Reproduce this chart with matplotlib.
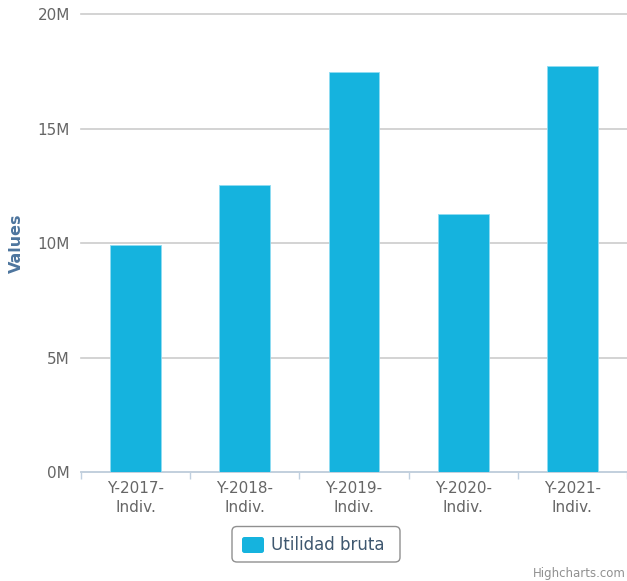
import matplotlib
matplotlib.use('Agg')
import matplotlib.pyplot as plt
from matplotlib.patches import FancyBboxPatch

# data
categories = ['Y-2017-\nIndiv.', 'Y-2018-\nIndiv.', 'Y-2019-\nIndiv.', 'Y-2020-\nIndiv.', 'Y-2021-\nIndiv.']
utilidad_bruta = [9.94e6, 12.56e6, 17.47e6, 11.28e6, 17.74e6]
y_ticks = [0, 5e6, 10e6, 15e6, 20e6]
y_tick_labels = ['0M', '5M', '10M', '15M', '20M']
series_name = 'Utilidad bruta'

bar_color = '#15b3de'
grid_color = '#cccccc'
axis_color = '#c0d0e0'
label_color = '#666666'

W, H = 627, 581
fig = plt.figure(figsize=(W / 100, H / 100), dpi=100)
ax = fig.add_axes([81 / W, 1 - 472.3 / H, 1 - 81 / W, (472.3 - 14.3) / H])

x = list(range(len(categories)))
ax.bar(x, utilidad_bruta, width=0.467, color=bar_color, edgecolor='#8fdcf2', linewidth=0.6, zorder=3)

ax.set_xlim(-0.5, len(categories) - 0.5)
ax.set_ylim(0, 20e6)
ax.set_yticks(y_ticks)
ax.set_yticklabels(y_tick_labels)
ax.yaxis.grid(True, color=grid_color, linewidth=1.2, zorder=0)
for gl in ax.get_ygridlines():
    gl.set_clip_on(False)
ax.tick_params(axis='y', length=0, pad=8, labelsize=11, labelcolor=label_color)

# category boundaries get the tick marks, labels sit in the middle
ax.set_xticks([i - 0.5 for i in range(len(categories) + 1)])
ax.set_xticklabels([])
ax.set_xticks(x, minor=True)
ax.set_xticklabels(categories, minor=True)
ax.tick_params(axis='x', which='major', length=5, color=axis_color, width=1)
ax.tick_params(axis='x', which='minor', length=0, pad=6, labelsize=11, labelcolor=label_color)
for lbl in ax.get_xticklabels(minor=True):
    lbl.set_linespacing(1.4)

for side in ['top', 'right', 'left']:
    ax.spines[side].set_visible(False)
ax.spines['bottom'].set_color(axis_color)
ax.spines['bottom'].set_linewidth(1.2)

fig.text(16 / W, 1 - 243 / H, 'Values', rotation=90, ha='center', va='center',
         fontsize=11.5, fontweight='bold', color='#4d759e')

# legend box
box = FancyBboxPatch((232 / W, 1 - 562 / H), 168 / W, 35.5 / H,
                     boxstyle='round,pad=0,rounding_size=0.008',
                     transform=fig.transFigure, facecolor='white',
                     edgecolor='#909090', linewidth=1.0)
fig.patches.append(box)
swatch = FancyBboxPatch((242 / W, 1 - 553 / H), 22 / W, 16 / H,
                        boxstyle='round,pad=0,rounding_size=0.004',
                        transform=fig.transFigure, facecolor=bar_color, edgecolor='none')
fig.patches.append(swatch)
fig.text(271 / W, 1 - 545 / H, series_name, ha='left', va='center',
         fontsize=12, color='#3e576f')

fig.text(626 / W, 1 - 574 / H, 'Highcharts.com', ha='right', va='center',
         fontsize=8.5, color='#909090')

fig.savefig('out.png', dpi=100)
